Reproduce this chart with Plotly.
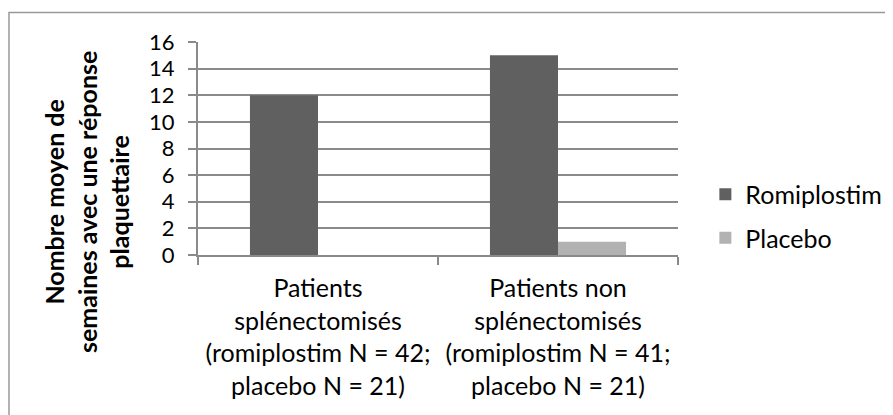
import plotly.graph_objects as go

categories = [
    "Patients<br>splénectomisés<br>(romiplostim N = 42;<br>placebo N = 21)",
    "Patients non<br>splénectomisés<br>(romiplostim N = 41;<br>placebo N = 21)",
]
romiplostim = [12, 15]
placebo = [0, 1]
series_names = ["Romiplostim", "Placebo"]
y_title = "Nombre moyen de<br>semaines avec une réponse<br>plaquettaire"
y_ticks = [0, 2, 4, 6, 8, 10, 12, 14, 16]

FONT = "Lato"
GRID = "#8a8a8a"

fig = go.Figure()
fig.add_trace(go.Bar(x=categories, y=romiplostim, name=series_names[0],
                     marker=dict(color="#606060", line=dict(width=0)),
                     legendgroup="a"))
fig.add_trace(go.Bar(x=categories, y=placebo, name=series_names[1],
                     marker=dict(color="#b2b2b2", line=dict(width=0)),
                     legendgroup="b"))

fig.update_layout(
    width=893, height=415,
    margin=dict(l=190, r=223, t=34, b=168),
    paper_bgcolor="white", plot_bgcolor="white",
    barmode="group", bargap=0.433, bargroupgap=0,
    font=dict(family=FONT, color="#000000"),
    legend=dict(x=1.057, y=0.183, yanchor="middle", xanchor="left",
                font=dict(size=25, family=FONT), tracegroupgap=8,
                bgcolor="rgba(0,0,0,0)"),
    xaxis=dict(showline=True, linecolor=GRID, linewidth=2,
               ticks="outside", tickson="boundaries", ticklen=8,
               tickcolor=GRID, tickwidth=2,
               tickfont=dict(size=25, family=FONT),
               showgrid=False, ticklabelstandoff=10),
    yaxis=dict(range=[0, 16], tickvals=y_ticks, showline=True,
               linecolor=GRID, linewidth=2, ticks="outside", ticklen=8,
               tickcolor=GRID, tickwidth=2, showgrid=True,
               gridcolor=GRID, gridwidth=2, zeroline=False,
               tickfont=dict(size=22, family=FONT), ticklabelstandoff=9),
)

fig.add_annotation(text=y_title, xref="paper", yref="paper",
                   x=-0.231, y=0.249, xanchor="center", yanchor="middle",
                   textangle=-90, showarrow=False,
                   font=dict(size=25, family=FONT, color="#000000",
                             weight="bold"))

fig.add_shape(type="rect", xref="paper", yref="paper",
              x0=(1 - 190) / 480, x1=2, y0=-2, y1=(247 - 4.5) / 213,
              line=dict(color="#999999", width=1.5), layer="below")

fig.write_html("out.html")
